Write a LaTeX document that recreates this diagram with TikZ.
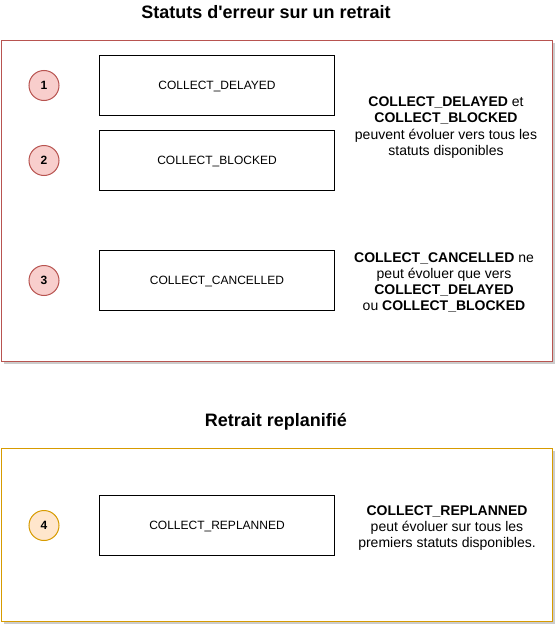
\documentclass[tikz,border=0pt]{standalone}
\usepackage{fontspec}
\setmainfont[Ligatures=NoCommon]{Liberation Sans}
\definecolor{redstroke}{HTML}{B85450}
\definecolor{redfill}{HTML}{F8CECC}
\definecolor{orstroke}{HTML}{D79B00}
\definecolor{orfill}{HTML}{FFE6CC}
\definecolor{shadowgray}{HTML}{CCCCCC}
\begin{document}
\begin{tikzpicture}[x=1pt,y=-1pt,
  frame/.style={draw=#1, fill=white, line width=1pt, minimum width=551pt, inner sep=0pt, anchor=north west},
  statebox/.style={draw=black, fill=white, line width=1pt, minimum width=235pt, minimum height=60pt, inner sep=0pt, text height=8.6pt, text depth=0pt, font=\fontsize{12}{14}\selectfont},
  numdot/.style={circle, draw=#1, line width=1pt, minimum size=30pt, inner sep=0pt, font=\bfseries\fontsize{12}{14}\selectfont},
  note/.style={align=center, font=\fontsize{14}{16.2}\selectfont},
  heading/.style={font=\bfseries\fontsize{18}{21}\selectfont}
]
\useasboundingbox (0,0) rectangle (554,626);
% shadows
\fill[shadowgray] (3.5,43.5) rectangle (554.5,363.5);
\fill[shadowgray] (3.5,450.5) rectangle (554.5,623.5);
\foreach \yy in {55.5,130.5,250.5,495.5} {\fill[shadowgray] (102.5,\yy+3) rectangle (337.5,\yy+63);}
% titles
\node[heading] (t1) at (266,12.5) {Statuts d\textquotesingle erreur sur un retrait};
\node[heading] (t2) at (276,422) {Retrait replanifié};
% frames
\node[frame=redstroke, minimum height=320pt] (f1) at (0.5,40.5) {};
\node[frame=orstroke, minimum height=173pt] (f2) at (0.5,447.5) {};
% boxes
\node[statebox] (b1) at (217,85.5) {COLLECT\_DELAYED};
\node[statebox] (b2) at (217,160.5) {COLLECT\_BLOCKED};
\node[statebox] (b3) at (217,280.5) {COLLECT\_CANCELLED};
\node[statebox] (b4) at (217,525.5) {COLLECT\_REPLANNED};
% circles
\node[numdot=redstroke, fill=redfill] (c1) at (44,85.5) {1};
\node[numdot=redstroke, fill=redfill] (c2) at (44,160.5) {2};
\node[numdot=redstroke, fill=redfill] (c3) at (44,280.5) {3};
\node[numdot=orstroke, fill=orfill] (c4) at (44,525.5) {4};
% notes
\node[note] (n1) at (446,127.5) {\textbf{COLLECT\_DELAYED} et\\\textbf{COLLECT\_BLOCKED}\\peuvent évoluer vers tous les\\statuts disponibles};
\node[note] (n2) at (444,282.5) {\textbf{COLLECT\_CANCELLED} ne\\peut évoluer que vers\\\textbf{COLLECT\_DELAYED}\\ou \textbf{COLLECT\_BLOCKED}};
\node[note] (n3) at (447,528) {\textbf{COLLECT\_REPLANNED}\\peut évoluer sur tous les\\premiers statuts disponibles.};
\end{tikzpicture}
\end{document}
